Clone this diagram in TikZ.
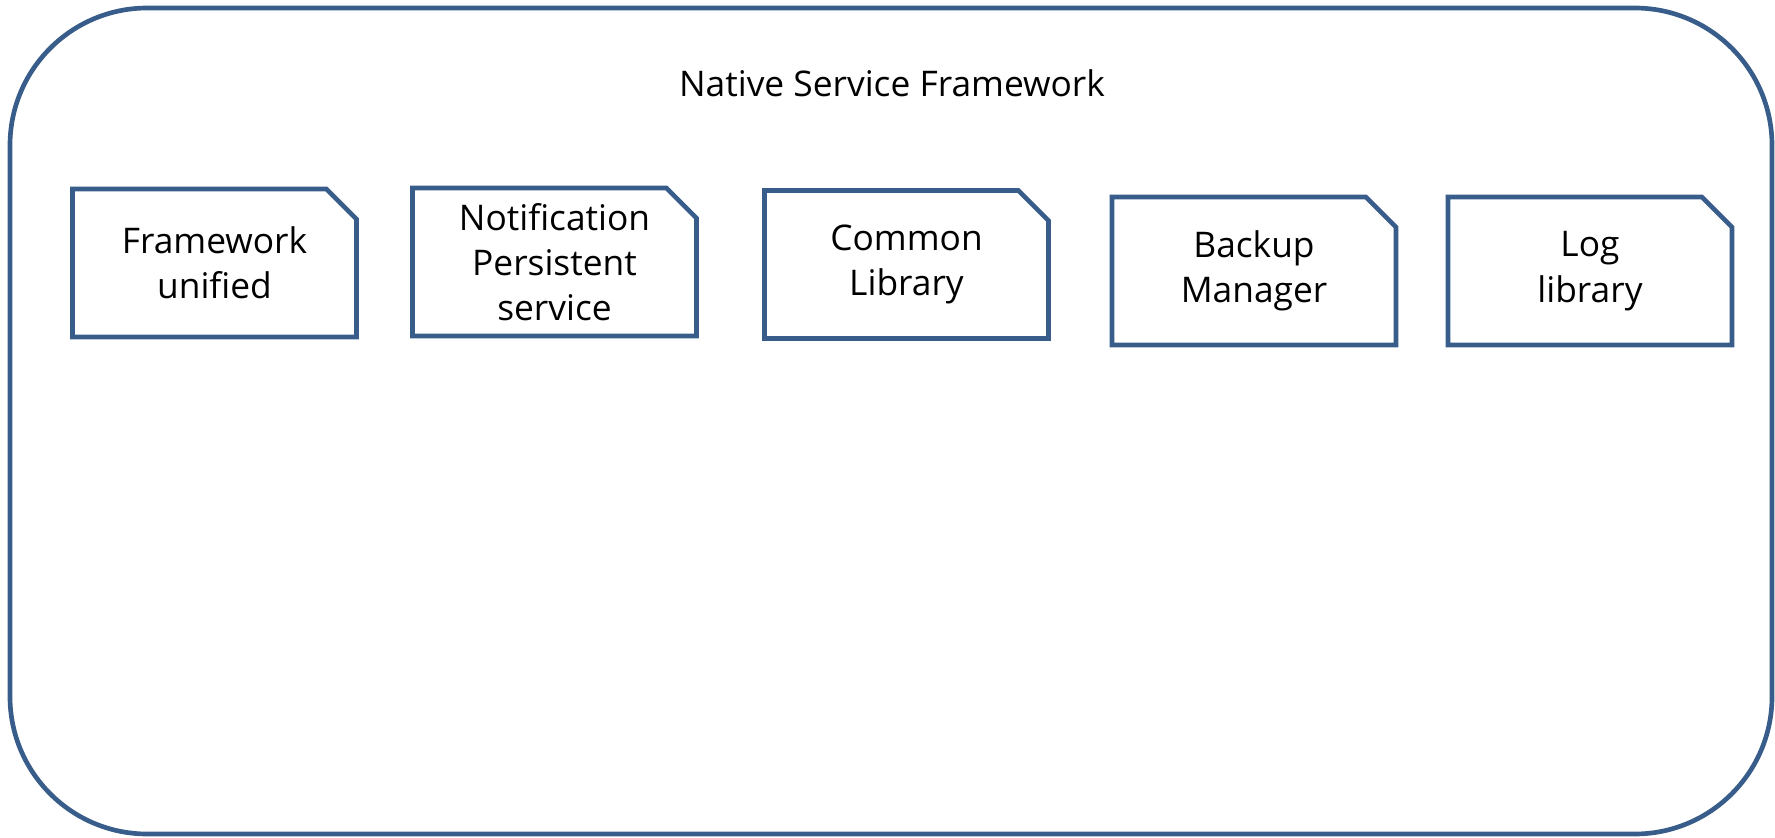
\documentclass[tikz,border=0pt]{standalone}
\usepackage{fontspec}
\setmainfont{Open Sans}
\usetikzlibrary{shapes.misc}
\definecolor{frameblue}{RGB}{56,93,138}
\newcommand{\boxfont}{\fontsize{26.5}{34}\selectfont}

\begin{document}
\begin{tikzpicture}[x=0.75pt,y=0.75pt,yscale=-1,xscale=1,
  outerframe/.style={draw=frameblue, line width=3.5pt, rounded corners=103pt},
  libbox/.style={chamfered rectangle, chamfered rectangle corners=north east,
    chamfered rectangle xsep=19pt, draw=frameblue, line width=3.5pt,
    minimum width=213pt, minimum height=111pt, inner sep=0pt,
    align=center, font=\boxfont}]
\useasboundingbox (0,0) rectangle (1775,838);

%Shape: Rounded Rectangle
\draw [outerframe] (10,8) rectangle (1772,834);

% Text Node
\node (title) at (892,83) [font=\boxfont] {Native Service Framework};

%Shape: Snip Rectangles
\node (fwunified) at (214.5,263) [libbox] {Framework\\unified};
\node (notifps) at (554.5,262) [libbox] {Notification\\Persistent\\service};
\node (commonlib) at (906.5,264.5) [libbox] {Common\\Library};
\node (backupmgr) at (1254,271) [libbox] {Backup\\Manager};
\node (loglib) at (1590,271) [libbox] {Log\\library};
\end{tikzpicture}
\end{document}
